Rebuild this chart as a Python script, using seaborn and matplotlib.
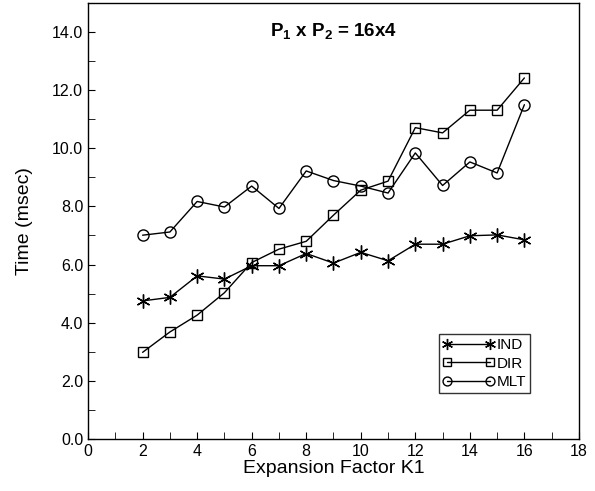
import numpy as np
import pandas as pd
import matplotlib
matplotlib.use("Agg")
import matplotlib.pyplot as plt
import seaborn as sns

k1 = [2, 3, 4, 5, 6, 7, 8, 9, 10, 11, 12, 13, 14, 15, 16]
ind = [4.75, 4.87, 5.61, 5.50, 5.96, 5.96, 6.38, 6.05, 6.42, 6.13, 6.70, 6.70, 6.99, 7.02, 6.85]
dir_ = [2.98, 3.68, 4.26, 5.03, 6.07, 6.53, 6.80, 7.70, 8.56, 8.87, 10.71, 10.53, 11.31, 11.31, 12.42]
mlt = [7.01, 7.12, 8.17, 7.98, 8.70, 7.93, 9.22, 8.89, 8.70, 8.46, 9.84, 8.72, 9.53, 9.15, 11.50]
series_names = ["IND", "DIR", "MLT"]

sns.set_style("ticks")
plt.rcParams["font.family"] = ["Liberation Sans", "DejaVu Sans"]
plt.rcParams["mathtext.fontset"] = "custom"
plt.rcParams["mathtext.rm"] = "Liberation Sans:bold"
plt.rcParams["text.color"] = "black"
plt.rcParams["axes.labelcolor"] = "black"
plt.rcParams["xtick.color"] = "black"
plt.rcParams["ytick.color"] = "black"

df = pd.DataFrame({
    "K1": k1 * 3,
    "Time": ind + dir_ + mlt,
    "Series": sum([[s] * len(k1) for s in series_names], []),
})

fig = plt.figure(figsize=(5.95, 4.91), dpi=100)
ax = fig.add_axes([0.148, 0.106, 0.825, 0.888])

markers = {"IND": (6, 2, 0), "DIR": "s", "MLT": "o"}
sizes = {"IND": 10, "DIR": 6.5, "MLT": 8}
for s in series_names:
    sub = df[df["Series"] == s]
    sns.lineplot(data=sub, x="K1", y="Time", ax=ax, color="black", lw=1,
                 marker=markers[s], markersize=sizes[s], markerfacecolor="none",
                 markeredgecolor="black", markeredgewidth=1, label=s)

ax.set_xlim(0, 18)
ax.set_ylim(0, 15)
ax.set_xticks(np.arange(0, 19, 2))
ax.set_xticks(np.arange(0, 19, 1), minor=True)
ax.set_yticks(np.arange(0, 15, 2))
ax.set_yticks(np.arange(0, 15, 1), minor=True)
ax.set_yticklabels([f"{v:.1f}" for v in np.arange(0, 15, 2)])
ax.tick_params(which="both", direction="in", labelsize=11.5, color="black",
               length=5)
for sp in ax.spines.values():
    sp.set_visible(True)
    sp.set_color("black")
    sp.set_linewidth(1)

ax.set_xlabel("Expansion Factor K1", fontsize=14, labelpad=1)
ax.set_ylabel("Time (msec)", fontsize=14, labelpad=14)

ax.text(9, 14.0, r"P$_1$ x P$_2$ = 16x4", fontsize=13.5, fontweight="bold",
        ha="center", va="center")

leg = ax.legend(loc="lower left", bbox_to_anchor=(0.714, 0.105), numpoints=2,
                frameon=True, fancybox=False, edgecolor="black", fontsize=11,
                handlelength=3.4, handletextpad=0.15, borderpad=0.25,
                labelspacing=0.3, borderaxespad=0, markerscale=0.8)
leg.get_frame().set_linewidth(1)

fig.savefig("out.png", dpi=100)
